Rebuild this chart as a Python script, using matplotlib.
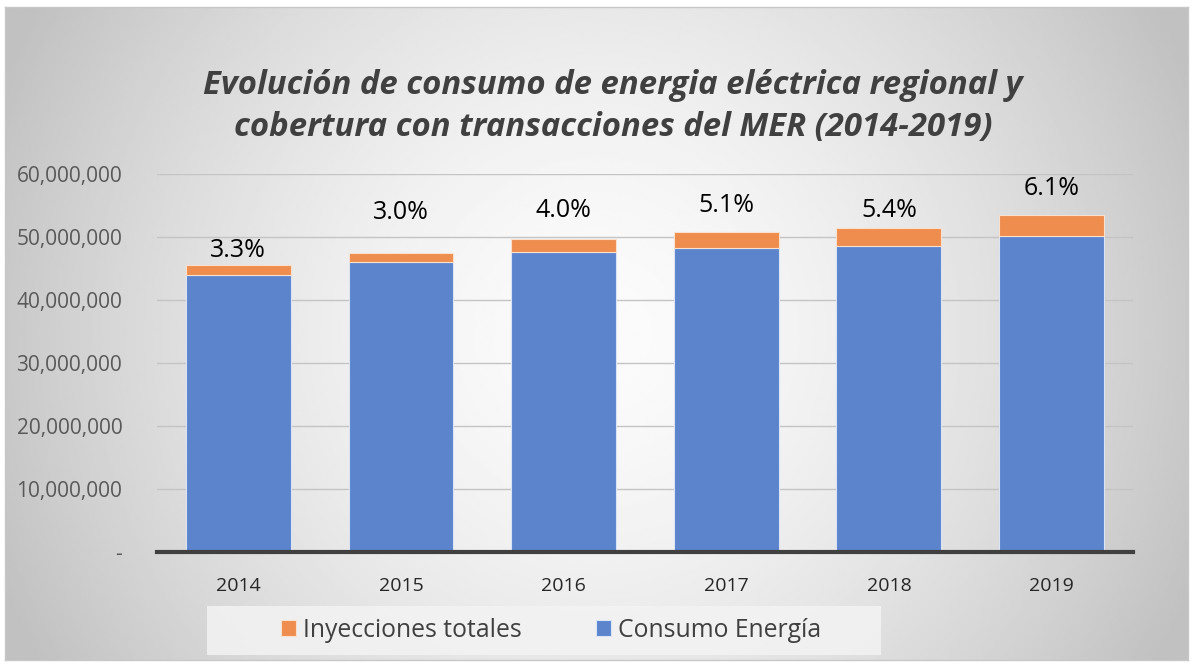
import numpy as np
import matplotlib.pyplot as plt

years = ['2014', '2015', '2016', '2017', '2018', '2019']
consumo = [44.0e6, 46.1e6, 47.7e6, 48.2e6, 48.6e6, 50.2e6]
inyecciones = [1.5e6, 1.43e6, 1.99e6, 2.6e6, 2.78e6, 3.26e6]
pct_labels = ['3.3%', '3.0%', '4.0%', '5.1%', '5.4%', '6.1%']
label_off = [15, 40, 29, 27, 18, 27]  # px above the top of each bar

plt.rcParams['font.family'] = ['Open Sans', 'DejaVu Sans']

fig = plt.figure(figsize=(11.93, 6.67), dpi=100)

# radial gradient background inside a thin frame
bg = fig.add_axes([0.004, 0.01, 0.992, 0.98])
yy, xx = np.mgrid[-1:1:300j, -1:1:500j]
r = np.sqrt((xx * 1.0) ** 2 + (yy * 0.55) ** 2)
r = np.clip(r / 1.1, 0, 1)
shade = 0.985 - 0.23 * r ** 1.6
bg.imshow(shade, cmap='gray', vmin=0, vmax=1, aspect='auto', extent=[0, 1, 0, 1])
bg.set_xlim(0, 1)
bg.set_ylim(0, 1)
bg.set_xticks([])
bg.set_yticks([])
for s in bg.spines.values():
    s.set_color('#c8c8c8')
    s.set_linewidth(1)

ax = fig.add_axes([0.1316, 0.1724, 0.818, 0.5666])
ax.patch.set_alpha(0)
x = np.arange(len(years))
w = 0.645
blue = '#5b84cc'
orange = '#ee8d4d'
ax.bar(x, consumo, w, color=blue, edgecolor='#dbe4f5', linewidth=0.8, label='Consumo Energía', zorder=3)
ax.bar(x, inyecciones, w, bottom=consumo, color=orange, edgecolor='#fbe0cd', linewidth=0.8,
       label='Inyecciones totales', zorder=3)

ax.set_xlim(-0.5, 5.5)
ax.set_ylim(0, 60e6)
ax.set_yticks(np.arange(0, 60e6 + 1, 10e6))
ax.set_yticklabels(['-'] + ['{:,.0f}'.format(v) for v in np.arange(10e6, 60e6 + 1, 10e6)])
ax.set_xticks(x)
ax.set_xticklabels(years)
ax.tick_params(axis='y', length=0, pad=25, labelsize=15, labelcolor='#595959')
ax.tick_params(axis='x', length=0, pad=18, labelsize=14, labelcolor='#262626')
ax.grid(axis='y', color='#c4c4c4', linewidth=1, zorder=0)
for s in ['top', 'right', 'left']:
    ax.spines[s].set_visible(False)
ax.spines['bottom'].set_color('#404040')
ax.spines['bottom'].set_linewidth(3)
ax.spines['bottom'].set_zorder(4)

for i in range(len(years)):
    top = consumo[i] + inyecciones[i]
    ax.annotate(pct_labels[i], (x[i], top), xytext=(0, label_off[i] * 0.72),
                textcoords='offset points', ha='center', va='center',
                fontsize=18, color='#000000', zorder=5)

fig.text(0.514, 0.84, 'Evolución de consumo de energia eléctrica regional y\ncobertura con transacciones del MER (2014-2019)',
         ha='center', va='center', fontsize=23.7, fontweight='bold', fontstyle='italic',
         color='#404040', linespacing=1.35)

# legend box
box = plt.Rectangle((0.1735, 0.018), 0.565, 0.074, transform=fig.transFigure,
                    facecolor='#f3f3f3', edgecolor='none', alpha=0.85)
fig.patches.append(box)
h, l = ax.get_legend_handles_labels()
leg = fig.legend([h[1], h[0]], [l[1], l[0]], loc='center', bbox_to_anchor=(0.462, 0.055),
                 ncol=2, frameon=False, fontsize=17.8, handlelength=0.6, handleheight=0.6,
                 handletextpad=0.3, columnspacing=3.0)
for t in leg.get_texts():
    t.set_color('#404040')

fig.savefig('out.png', dpi=100)
